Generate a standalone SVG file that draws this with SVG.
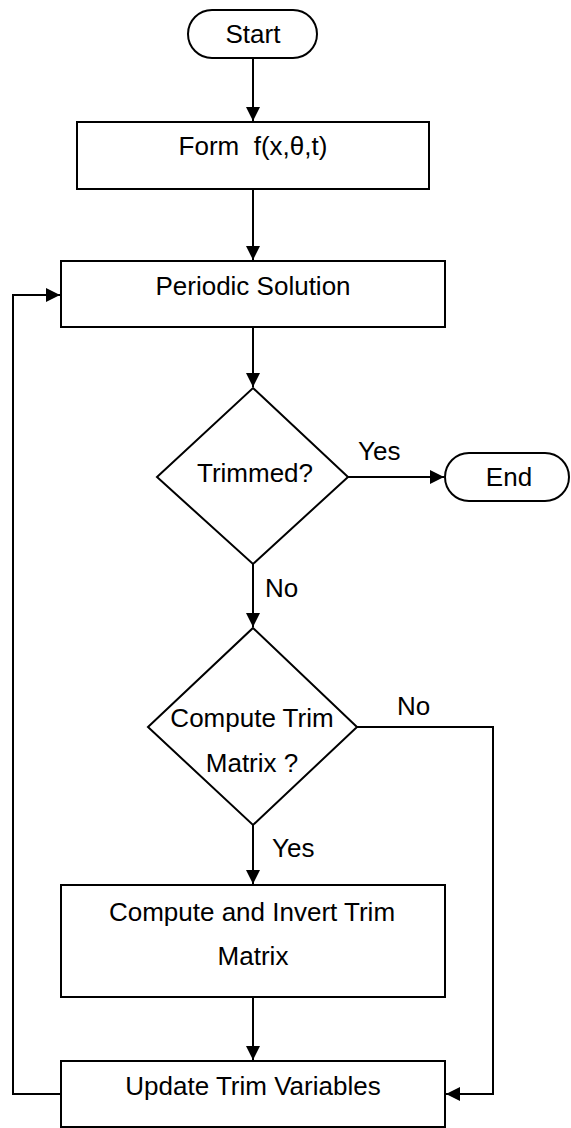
<svg xmlns="http://www.w3.org/2000/svg" width="571" height="1128" viewBox="0 0 571 1128">
  <style>
    .shape { fill: #ffffff; stroke: #000000; stroke-width: 2; }
    .link { fill: none; stroke: #000000; stroke-width: 2; }
    text { font-family: "Liberation Sans", Arial, sans-serif; font-size: 26px; fill: #000000; }
    .c { text-anchor: middle; }
  </style>
  <defs>
    <marker id="arrow" viewBox="0 0 14 14" refX="14" refY="7" markerWidth="14" markerHeight="14" markerUnits="userSpaceOnUse" orient="auto">
      <path d="M0,0 L14,7 L0,14 Z" fill="#000000"/>
    </marker>
  </defs>
  <rect width="571" height="1128" fill="#ffffff"/>

  <!-- connectors -->
  <g id="connectors">
    <line class="link" x1="253" y1="58" x2="253" y2="121" marker-end="url(#arrow)"/>
    <line class="link" x1="253" y1="189" x2="253" y2="260" marker-end="url(#arrow)"/>
    <line class="link" x1="253" y1="327" x2="253" y2="387" marker-end="url(#arrow)"/>
    <line class="link" x1="348" y1="477" x2="444" y2="477" marker-end="url(#arrow)"/>
    <line class="link" x1="253" y1="564" x2="253" y2="627" marker-end="url(#arrow)"/>
    <line class="link" x1="253" y1="825" x2="253" y2="884" marker-end="url(#arrow)"/>
    <line class="link" x1="253" y1="997" x2="253" y2="1060" marker-end="url(#arrow)"/>
    <polyline class="link" points="357,727 493,727 493,1094 446,1094" marker-end="url(#arrow)"/>
    <polyline class="link" points="61,1094 13,1094 13,295 60,295" marker-end="url(#arrow)"/>
    <text x="358" y="460">Yes</text>
    <text x="265" y="597">No</text>
    <text x="397" y="715">No</text>
    <text x="272" y="857">Yes</text>
  </g>

  <g id="start">
    <rect class="shape" x="188" y="10" width="129" height="48" rx="24" ry="24"/>
    <text class="c" x="253" y="43">Start</text>
  </g>

  <g id="form">
    <rect class="shape" x="77" y="122" width="352" height="67"/>
    <text class="c" x="253" y="155" xml:space="preserve">Form  f(x,θ,t)</text>
  </g>

  <g id="periodic">
    <rect class="shape" x="61" y="261" width="384" height="66"/>
    <text class="c" x="253" y="295">Periodic Solution</text>
  </g>

  <g id="trimmed">
    <polygon class="shape" points="253,388 348,477 253,564 157,477"/>
    <text class="c" x="255" y="482">Trimmed?</text>
  </g>

  <g id="end">
    <rect class="shape" x="445" y="453" width="124" height="48" rx="24" ry="24"/>
    <text class="c" x="509" y="486">End</text>
  </g>

  <g id="compute-trim">
    <polygon class="shape" points="253,628 357,727 253,825 148,727"/>
    <text class="c" x="252" y="727">Compute Trim</text>
    <text class="c" x="252" y="772">Matrix ?</text>
  </g>

  <g id="invert">
    <rect class="shape" x="61" y="885" width="384" height="112"/>
    <text class="c" x="252" y="921">Compute and Invert Trim</text>
    <text class="c" x="253" y="965">Matrix</text>
  </g>

  <g id="update">
    <rect class="shape" x="61" y="1061" width="384" height="66"/>
    <text class="c" x="253" y="1095">Update Trim Variables</text>
  </g>
</svg>
